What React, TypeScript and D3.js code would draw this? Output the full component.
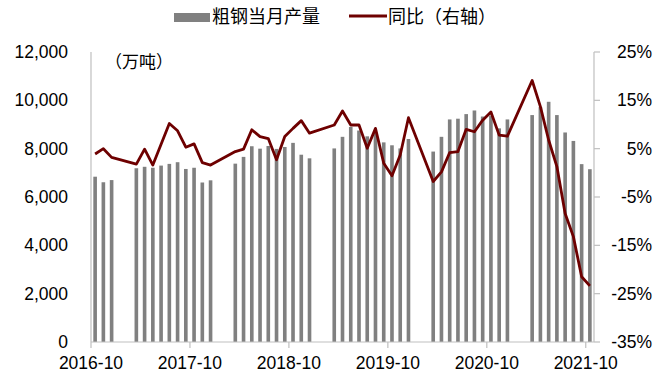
import React from "react";
import * as d3 from "d3";

const months: string[] = [
  "2016-10","2016-11","2016-12",
  "2017-01","2017-02","2017-03","2017-04","2017-05","2017-06","2017-07","2017-08","2017-09","2017-10","2017-11","2017-12",
  "2018-01","2018-02","2018-03","2018-04","2018-05","2018-06","2018-07","2018-08","2018-09","2018-10","2018-11","2018-12",
  "2019-01","2019-02","2019-03","2019-04","2019-05","2019-06","2019-07","2019-08","2019-09","2019-10","2019-11","2019-12",
  "2020-01","2020-02","2020-03","2020-04","2020-05","2020-06","2020-07","2020-08","2020-09","2020-10","2020-11","2020-12",
  "2021-01","2021-02","2021-03","2021-04","2021-05","2021-06","2021-07","2021-08","2021-09","2021-10",
];

// 粗钢当月产量 (万吨)
const production: (number | null)[] = [
  6840, 6610, 6700,
  null, null, 7190, 7250, 7210, 7300, 7370, 7440, 7160, 7210, 6600, 6690,
  null, null, 7380, 7660, 8100, 8000, 8110, 7990, 8070, 8240, 7750, 7600,
  null, null, 8010, 8490, 8900, 8750, 8510, 8650, 8260, 8140, 8010, 8400,
  null, null, 7880, 8490, 9210, 9240, 9430, 9580, 9330, 9370, 8840, 9210,
  null, null, 9390, 9720, 9940, 9390, 8670, 8320, 7360, 7150,
];

// 同比 (%)
const yoy: (number | null)[] = [
  3.9, 5.0, 3.2,
  null, null, 1.8, 4.9, 1.6, 5.9, 10.2, 8.7, 5.3, 6.0, 2.1, 1.6,
  null, null, 4.4, 4.9, 8.9, 7.5, 7.1, 2.7, 7.5, 9.2, 10.8, 8.2,
  null, null, 9.9, 12.8, 9.9, 9.9, 5.1, 9.2, 2.0, -0.6, 3.7, 11.4,
  null, null, -1.8, 0.2, 4.2, 4.4, 9.0, 8.5, 10.9, 12.6, 7.8, 7.6,
  null, null, 19.1, 13.7, 6.8, 1.3, -8.4, -13.2, -21.5, -23.4,
];

const xTickLabels: string[] = ["2016-10", "2017-10", "2018-10", "2019-10", "2020-10", "2021-10"];
const leftTicks: number[] = [0, 2000, 4000, 6000, 8000, 10000, 12000];
const rightTicks: number[] = [-35, -25, -15, -5, 5, 15, 25];

const W = 666, H = 382;
const L = 91, R = 594, T = 52, B = 342;
const numFont = "'Liberation Sans', Arial, sans-serif";
const cjkFont = "'Noto Sans CJK SC', sans-serif";
const numSize = 17.5;
const barColor = "#808080";
const lineColor = "#6e0000";
const axisColor = "#bfbfbf";

export default function App() {
  const x = d3.scaleBand<string>().domain(months).range([L, R]).padding(0);
  const bw = x.bandwidth();
  const cx = (m: string) => (x(m) as number) + bw / 2;
  const yL = d3.scaleLinear().domain([0, 12000]).range([B, T]);
  const yR = d3.scaleLinear().domain([-35, 25]).range([B, T]);
  const barW = bw * 0.44;

  const pts = months
    .map((m, i) => ({ m, v: yoy[i] }))
    .filter((d) => d.v !== null) as { m: string; v: number }[];
  const lineGen = d3
    .line<{ m: string; v: number }>()
    .x((d) => cx(d.m))
    .y((d) => yR(d.v));

  const fmtL = d3.format(",");

  return (
    <svg width={W} height={H} style={{ position: "absolute", left: 0, top: 0, background: "#fff" }}>
      {/* bars */}
      {months.map((m, i) =>
        production[i] === null ? null : (
          <rect
            key={m}
            x={cx(m) - barW / 2}
            y={yL(production[i] as number)}
            width={barW}
            height={B - yL(production[i] as number)}
            fill={barColor}
          />
        )
      )}
      {/* axes */}
      <line x1={L} x2={L} y1={T} y2={B} stroke={axisColor} strokeWidth={1.2} />
      <line x1={R} x2={R} y1={T} y2={B} stroke={axisColor} strokeWidth={1.2} />
      <line x1={L} x2={R} y1={B} y2={B} stroke={axisColor} strokeWidth={1.2} />
      {rightTicks.map((t) => (
        <line key={"rt" + t} x1={R} x2={R + 6} y1={yR(t)} y2={yR(t)} stroke={axisColor} strokeWidth={1.2} />
      ))}
      {xTickLabels.map((lab) => (
        <g key={lab}>
          <line x1={x(lab) as number} x2={x(lab) as number} y1={B} y2={B + 6} stroke={axisColor} strokeWidth={1.2} />
          <text
            x={x(lab) as number}
            y={369}
            textAnchor="middle"
            fontFamily={numFont}
            fontSize={numSize}
            fill="#000"
          >
            {lab}
          </text>
        </g>
      ))}
      {leftTicks.map((t) => (
        <text key={"l" + t} x={68} y={yL(t)} dy="0.35em" textAnchor="end" fontFamily={numFont} fontSize={numSize} fill="#000">
          {fmtL(t)}
        </text>
      ))}
      {rightTicks.map((t) => (
        <text key={"r" + t} x={652} y={yR(t)} dy="0.35em" textAnchor="end" fontFamily={numFont} fontSize={numSize} fill="#000">
          {t + "%"}
        </text>
      ))}
      {/* line */}
      <path d={lineGen(pts) || ""} fill="none" stroke={lineColor} strokeWidth={2.8} strokeLinejoin="round" />
      {/* unit */}
      <text x={105} y={62} dy="0.35em" fontFamily={cjkFont} fontSize={17} fill="#000">
        （万吨）
      </text>
      {/* legend */}
      <rect x={174} y={13} width={36} height={9} fill={barColor} />
      <text x={212} y={17} dy="0.35em" fontFamily={cjkFont} fontSize={18} fill="#000">
        粗钢当月产量
      </text>
      <line x1={349} x2={387} y1={16} y2={16} stroke={lineColor} strokeWidth={3} />
      <text x={388} y={17} dy="0.35em" fontFamily={cjkFont} fontSize={18} fill="#000">
        同比（右轴）
      </text>
    </svg>
  );
}
